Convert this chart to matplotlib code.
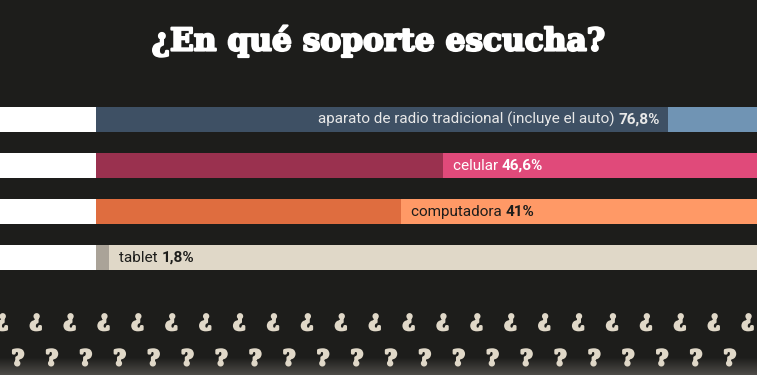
import matplotlib.pyplot as plt
import matplotlib.patheffects as pe
import numpy as np

# data
categorias = ['aparato de radio tradicional (incluye el auto)', 'celular', 'computadora', 'tablet']
valores = [76.8, 46.6, 41.0, 1.8]
etiquetas = ['76,8%', '46,6%', '41%', '1,8%']

oscuro = ['#3e5064', '#9a314f', '#df6d3f', '#aaa398']
claro = ['#7094b4', '#e04a7a', '#ff9966', '#e0d8c8']
color_txt = ['#e8e8e8', '#ffffff', '#1d1d1b', '#1d1d1b']
fondo = '#1d1d1b'
crema = '#e0d8c8'

W, H = 757, 375
fig = plt.figure(figsize=(W/100, H/100), dpi=100, facecolor=fondo)

# background with a soft lighter band at the very bottom
bg = fig.add_axes([0, 0, 1, 1])
bg.set_axis_off()
grad = np.zeros((H, 1))
grad[H-18:, 0] = np.linspace(0, 1, 18)
bg.imshow(grad, aspect='auto', extent=[0, 1, 0, 1],
          cmap=plt.matplotlib.colors.LinearSegmentedColormap.from_list('g', [fondo, '#4d4b47']),
          origin='upper')
bg.set_xlim(0, 1)
bg.set_ylim(0, 1)

# bars: 0% at x=96px, ~7.45 px per percent
px = 7.45
ax = fig.add_axes([0, 0, 1, 1])
ax.set_facecolor('none')
ax.set_xlim(-96/px, (W-96)/px)
paso = 46
ax.set_ylim((H-119.5)/paso, -119.5/paso)
ax.set_axis_off()

y = np.arange(len(categorias))
alto = 25/paso
ax.barh(y, 100, left=0, height=alto, color=claro)
ax.barh(y, valores, left=0, height=alto, color=oscuro)
ax.barh(y, 96/px, left=-96/px, height=alto, color='white')

fuente = 'Roboto'
fs = 11
for i, (cat, v, et) in enumerate(zip(categorias, valores, etiquetas)):
    if i == 0:
        t = ax.text(v - 8/px, i, et, ha='right', va='center', fontsize=fs,
                    fontweight='bold', color=color_txt[i], family=fuente)
        ax.annotate(cat + ' ', xy=(0, 0), xycoords=t, ha='right', va='bottom',
                    fontsize=fs, color=color_txt[i], family=fuente)
    else:
        t = ax.text(v + 10/px, i, cat + ' ', ha='left', va='center', fontsize=fs,
                    color=color_txt[i], family=fuente)
        ax.annotate(et, xy=(1, 0), xycoords=t, ha='left', va='bottom',
                    fontsize=fs, fontweight='bold', color=color_txt[i], family=fuente)

fig.text(0.5, 1 - 41/H, '¿En qué soporte escucha?', ha='center', va='center',
         fontsize=22.5, fontweight='bold', color='white', family='DejaVu Serif',
         path_effects=[pe.withStroke(linewidth=1.6, foreground='white')])

# decorative rows of question marks
grueso = [pe.withStroke(linewidth=1.8, foreground=crema)]
for k in range(23):
    fig.text((2 + 33.9*k)/W, 1 - 320/H, '¿', ha='center', va='center', fontsize=15,
             fontweight='bold', color=crema, family='DejaVu Serif', path_effects=grueso)
for k in range(22):
    fig.text((18 + 33.9*k)/W, 1 - 359/H, '?', ha='center', va='center', fontsize=15,
             fontweight='bold', color=crema, family='DejaVu Serif', path_effects=grueso)

fig.savefig('out.png', dpi=100, facecolor=fondo)
